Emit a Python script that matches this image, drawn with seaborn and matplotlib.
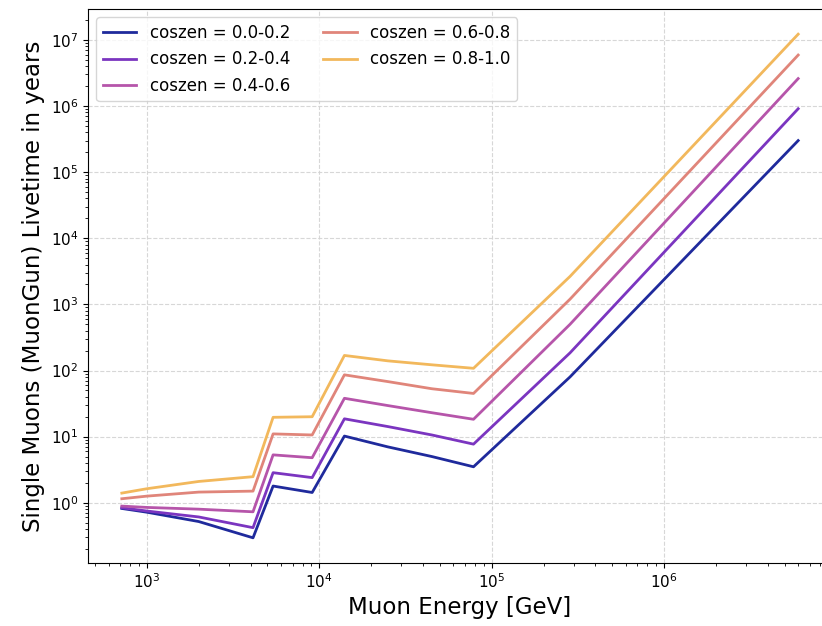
import matplotlib
matplotlib.use("Agg")
import matplotlib.pyplot as plt
import numpy as np
import pandas as pd
import seaborn as sns

# muon energy grid [GeV]
energy = [716, 1000, 2000, 4130, 5400, 9100, 14000, 25000, 45000, 78500, 285000, 6.0e6]

bins = ["0.0-0.2", "0.2-0.4", "0.4-0.6", "0.6-0.8", "0.8-1.0"]

# livetime in years for each coszen bin
live_00_02 = [0.82, 0.72, 0.52, 0.295, 1.79, 1.43, 10.2, 7.0, 5.0, 3.5, 80, 3.0e5]
live_02_04 = [0.84, 0.75, 0.61, 0.42, 2.85, 2.4, 18.6, 14.2, 10.6, 7.7, 185, 9.1e5]
live_04_06 = [0.89, 0.85, 0.80, 0.73, 5.3, 4.8, 38, 29.5, 23, 18.3, 500, 2.6e6]
live_06_08 = [1.15, 1.26, 1.45, 1.5, 11, 10.6, 86, 68, 53, 45, 1200, 5.9e6]
live_08_10 = [1.40, 1.63, 2.1, 2.48, 19.6, 20, 169, 140, 122, 108, 2650, 1.22e7]

colors = ["#1f2a9c", "#7b35c0", "#b655aa", "#e0857a", "#f2b85c"]

livetimes = [live_00_02, live_02_04, live_04_06, live_06_08, live_08_10]
rows = []
for b, vals in zip(bins, livetimes):
    for e, v in zip(energy, vals):
        rows.append({"energy": e, "livetime": v, "coszen": f"coszen = {b}"})
df = pd.DataFrame(rows)

fig = plt.figure(figsize=(8.22, 6.26), dpi=100)
ax = fig.add_axes([88 / 822, 63 / 626, 744 / 822, 554 / 626])

sns.lineplot(data=df, x="energy", y="livetime", hue="coszen", palette=colors,
             estimator=None, sort=False, linewidth=2, ax=ax)

ax.set_xscale("log")
ax.set_yscale("log")
ax.grid(True, which="major", linestyle="--", color="lightgray", alpha=0.9)
ax.tick_params(axis="both", which="major", labelsize=11)

ax.set_xlabel("Muon Energy [GeV]", fontsize=16.5, labelpad=3)
ax.set_ylabel("Single Muons (MuonGun) Livetime in years", fontsize=16.5)
ax.legend(ncol=2, loc="upper left", fontsize=12)

fig.savefig("out.png", dpi=100)
